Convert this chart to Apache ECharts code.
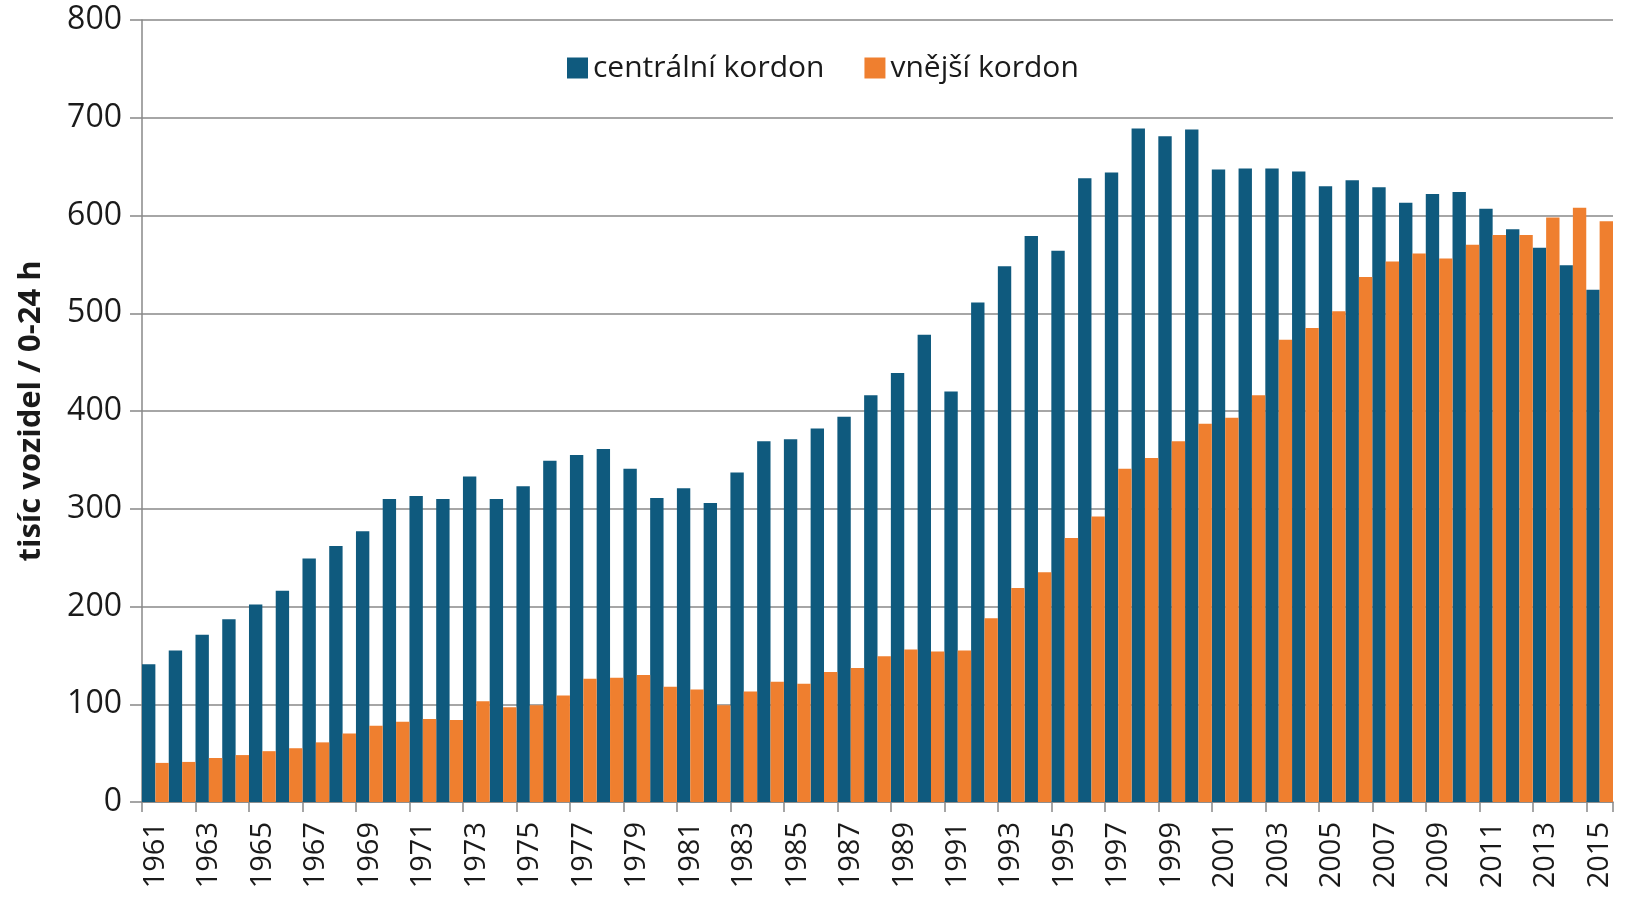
<!DOCTYPE html>
<html>
<head>
<meta charset="utf-8">
<script src="https://cdn.jsdelivr.net/npm/echarts@6/dist/echarts.min.js"></script>
<style>
  html, body { margin: 0; padding: 0; background: #fff; }
  #chart { width: 1625px; height: 897px; }
</style>
</head>
<body>
<div id="chart"></div>
<script>
  // roky 1961-2015
  const years = [];
  for (let y = 1961; y <= 2015; y++) years.push(String(y));

  // centrální kordon (tis. vozidel / 0-24 h)
  const central = [
    141, 155, 171, 187, 202, 216, 249, 262, 277, 310,
    313, 310, 333, 310, 323, 349, 355, 361, 341, 311,
    321, 306, 337, 369, 371, 382, 394, 416, 439, 478,
    420, 511, 548, 579, 564, 638, 644, 689, 681, 688,
    647, 648, 648, 645, 630, 636, 629, 613, 622, 624,
    607, 586, 567, 549, 524
  ];

  // vnější kordon
  const outer = [
    40, 41, 45, 48, 52, 55, 61, 70, 78, 82,
    85, 84, 103, 97, 99, 109, 126, 127, 130, 118,
    115, 99, 113, 123, 121, 133, 137, 149, 156, 154,
    155, 188, 219, 235, 270, 292, 341, 352, 369, 387,
    393, 416, 473, 485, 502, 537, 553, 561, 556, 570,
    580, 580, 598, 608, 594
  ];

  const yTicks = { min: 0, max: 800, interval: 100 };

  let myChart = echarts.init(document.getElementById('chart'));
  myChart.setOption({
    animation: false,
    textStyle: { fontFamily: 'Open Sans' },
    grid: {
      left: 142,
      right: 12,
      top: 20,
      bottom: 95
    },
    color: ['#0f5a7e', '#ef7f2f'],
    legend: {
      left: 562,
      top: 48,
      icon: 'rect',
      itemWidth: 21,
      itemHeight: 21,
      itemGap: 40,
      textStyle: {
        fontSize: 30,
        color: '#1a1a1a'
      }
    },
    xAxis: {
      type: 'category',
      data: years,
      axisLine: { lineStyle: { color: '#888', width: 1.5 } },
      axisTick: { show: true, length: 10, lineStyle: { color: '#888', width: 1.5 } },
      axisLabel: {
        rotate: 90,
        interval: 1,
        margin: 20,
        fontSize: 29,
        color: '#1a1a1a'
      }
    },
    yAxis: {
      type: 'value',
      min: yTicks.min,
      max: yTicks.max,
      interval: yTicks.interval,
      name: 'tisíc vozidel / 0-24 h',
      nameLocation: 'middle',
      nameGap: 95,
      nameTextStyle: {
        fontSize: 31,
        fontWeight: 'bold',
        color: '#1a1a1a'
      },
      axisLine: { show: true, lineStyle: { color: '#888', width: 1.5 } },
      axisTick: { show: true, length: 12, lineStyle: { color: '#888', width: 1.5 } },
      axisLabel: {
        margin: 20,
        fontSize: 32,
        color: '#1a1a1a'
      },
      splitLine: { lineStyle: { color: '#888', width: 1.5 } }
    },
    series: [{
      name: 'centrální kordon',
      type: 'bar',
      barGap: '0%',
      barCategoryGap: '0%',
      data: central
    }, {
      name: 'vnější kordon',
      type: 'bar',
      barGap: '0%',
      barCategoryGap: '0%',
      data: outer
    }]
  });

  window.addEventListener("resize", () => {
    myChart.resize();
  });
</script>
</body>
</html>
